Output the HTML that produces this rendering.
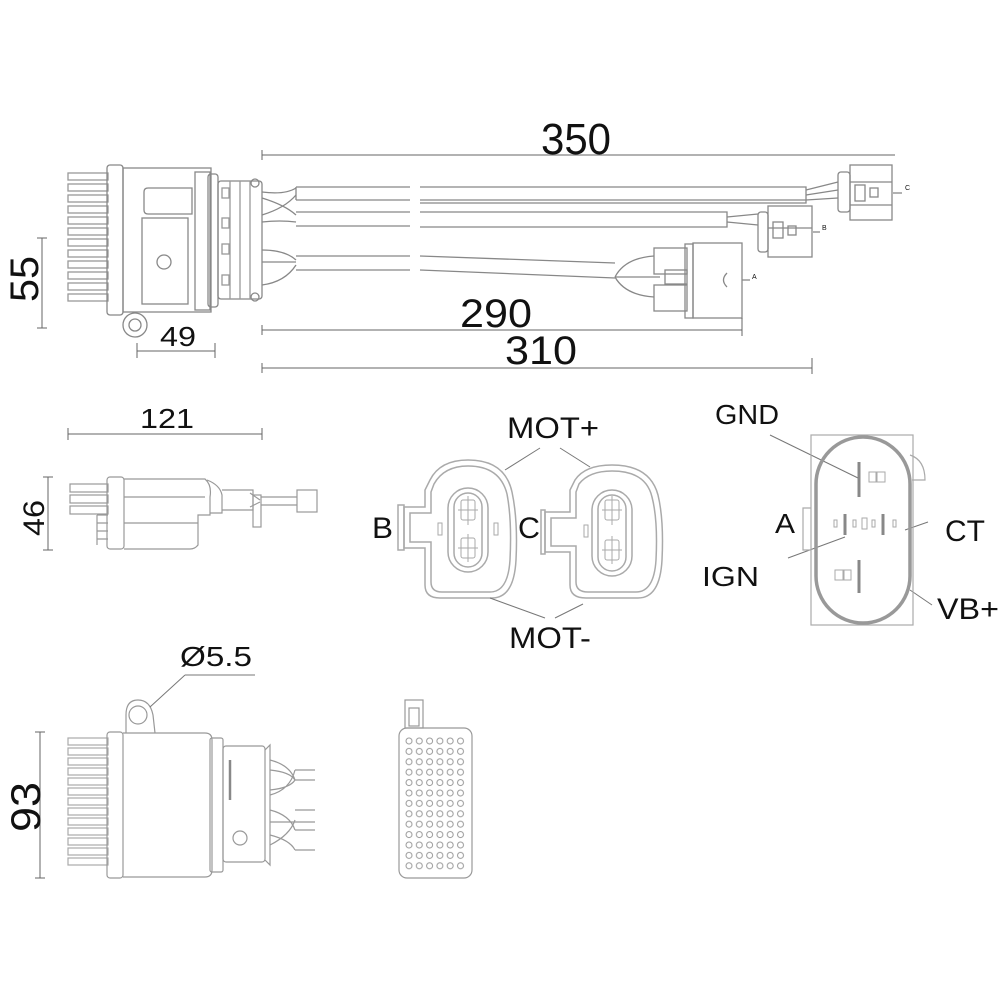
<!DOCTYPE html>
<html><head><meta charset="utf-8"><style>
html,body{margin:0;padding:0;background:#fff}
svg{display:block}
text{font-family:"Liberation Sans",sans-serif;fill:#111}
</style></head><body>
<svg width="1000" height="1000" viewBox="0 0 1000 1000" xmlns="http://www.w3.org/2000/svg">
<defs>
<pattern id="dots" x="404" y="736" width="10.3" height="10.4" patternUnits="userSpaceOnUse">
<circle cx="5" cy="5" r="3" fill="none" stroke="#999" stroke-width="1"/>
</pattern>
</defs>
<g fill="none" stroke="#888" stroke-width="1.3">
<g stroke="#999">
<rect x="68" y="173" width="40" height="7"/><rect x="68" y="184" width="40" height="7"/>
<rect x="68" y="195" width="40" height="7"/><rect x="68" y="206" width="40" height="7"/>
<rect x="68" y="217" width="40" height="7"/><rect x="68" y="228" width="40" height="7"/>
<rect x="68" y="239" width="40" height="7"/><rect x="68" y="250" width="40" height="7"/>
<rect x="68" y="261" width="40" height="7"/><rect x="68" y="272" width="40" height="7"/>
<rect x="68" y="283" width="40" height="7"/><rect x="68" y="294" width="40" height="7"/>
</g>
<rect x="107" y="165" width="16" height="150" rx="3"/>
<rect x="123" y="168" width="88" height="144"/>
<path d="M148 188 H192 V214 H148 Q144 214 144 210 V192 Q144 188 148 188 Z"/>
<rect x="142" y="218" width="46" height="86"/>
<circle cx="164" cy="262" r="7"/>
<rect x="195" y="172" width="15" height="138"/>
<rect x="208" y="174" width="10" height="133" rx="3"/>
<rect x="218" y="181" width="44" height="118" rx="3"/>
<g stroke="#999">
<line x1="230" y1="181" x2="230" y2="299"/><line x1="240" y1="181" x2="240" y2="299"/><line x1="250" y1="181" x2="250" y2="299"/>
<rect x="222" y="188" width="7" height="10"/><rect x="222" y="218" width="7" height="10"/><rect x="222" y="244" width="7" height="10"/><rect x="222" y="275" width="7" height="10"/>
</g>
<circle cx="255" cy="183" r="4"/><circle cx="255" cy="297" r="4"/>
<circle cx="135" cy="325" r="12"/><circle cx="135" cy="325" r="6"/>
<path d="M262 192 Q285 195 296 188 M262 215 Q285 208 296 195 M262 198 Q285 205 296 215 M262 222 Q280 220 296 222"/>
<path d="M262 250 Q285 250 296 260 M262 285 Q285 282 296 265 M262 262 H296"/>
<path d="M296 187 H410 M296 200 H410 M296 187 V200"/>
<path d="M420 187 H806 V203 H420 M420 200 H806"/>
<path d="M806 190 L838 182 M806 195 L838 190 M806 200 L838 198"/>
<rect x="838" y="172" width="12" height="40" rx="3"/>
<rect x="850" y="165" width="42" height="55"/>
<line x1="850" y1="182" x2="892" y2="182"/><line x1="850" y1="205" x2="892" y2="205"/>
<rect x="855" y="185" width="10" height="16"/><rect x="870" y="188" width="8" height="9"/>
<path d="M893 193 H902"/>
<path d="M296 212 H410 M296 226 H410"/>
<path d="M420 212 H727 V227 H420"/>
<path d="M727 217 L758 214 M727 222 L758 225"/>
<rect x="758" y="212" width="10" height="40" rx="3"/>
<rect x="768" y="206" width="44" height="51"/>
<line x1="768" y1="228" x2="812" y2="228"/>
<rect x="773" y="222" width="10" height="16"/><rect x="788" y="226" width="8" height="9"/>
<path d="M813 232 H820"/>
<path d="M296 256 H410 M296 270 H410"/>
<path d="M420 256 L615 263 M420 270 L615 278"/>
<path d="M615 277 Q625 258 654 256 M615 277 H660 M615 277 Q625 295 654 297"/>
<rect x="654" y="248" width="33" height="26"/><rect x="665" y="270" width="22" height="14"/><rect x="654" y="285" width="33" height="26"/>
<rect x="685" y="244" width="8" height="74"/>
<rect x="693" y="243" width="49" height="75"/>
<path d="M727 273 Q720 280 727 287"/>
<path d="M742 280 H750"/>
</g>
<g stroke="#666" stroke-width="1">
<line x1="262" y1="155" x2="895" y2="155"/><line x1="262" y1="150" x2="262" y2="160"/>
<line x1="262" y1="330" x2="742" y2="330"/><line x1="262" y1="325" x2="262" y2="335"/><line x1="742" y1="318" x2="742" y2="336"/>
<line x1="262" y1="368" x2="812" y2="368"/><line x1="262" y1="363" x2="262" y2="373"/><line x1="812" y1="358" x2="812" y2="374"/>
<line x1="42" y1="238" x2="42" y2="328"/><line x1="37" y1="238" x2="47" y2="238"/><line x1="37" y1="328" x2="47" y2="328"/>
<line x1="137" y1="351" x2="215" y2="351"/><line x1="137" y1="343" x2="137" y2="358"/><line x1="215" y1="343" x2="215" y2="358"/>
<line x1="68" y1="434" x2="262" y2="434"/><line x1="68" y1="428" x2="68" y2="440"/><line x1="262" y1="428" x2="262" y2="440"/>
<line x1="48" y1="477" x2="48" y2="550"/><line x1="43" y1="477" x2="53" y2="477"/><line x1="43" y1="550" x2="53" y2="550"/>
<line x1="40" y1="732" x2="40" y2="878"/><line x1="35" y1="732" x2="45" y2="732"/><line x1="35" y1="878" x2="45" y2="878"/>
</g>
<g fill="none" stroke="#999" stroke-width="1.2">
<rect x="70" y="484" width="38" height="8"/><rect x="70" y="495" width="38" height="8"/><rect x="70" y="506" width="38" height="8"/>
<path d="M97 515 H108 M97 523 H108 M97 531 H108 M97 539 H108 M97 515 V545"/>
<rect x="107" y="477" width="17" height="72" rx="3"/>
<path d="M124 479 H205 Q212 485 210 497 V515 H198 V545 Q195 549 190 549 H124"/>
<line x1="124" y1="497" x2="205" y2="497"/><line x1="124" y1="523" x2="198" y2="523"/>
<path d="M207 480 Q220 485 222 495 V513 H210"/>
<path d="M222 490 H253 V510 H222"/>
<path d="M250 493 L260 500 M250 507 L260 502"/>
<rect x="253" y="495" width="8" height="32"/>
<path d="M261 497 H297 M261 505 H297"/>
<rect x="297" y="490" width="20" height="22"/>
</g>
<g fill="none" stroke="#aaa" stroke-width="1.5">
<path d="M430 480 Q440 460 468 460 Q505 460 512 492 Q518 520 516 560 Q514 598 492 598 H440 Q425 598 425 585 V548 H404 V507 H425 V490 Z"/>
<path d="M434 484 Q444 466 468 466 Q500 466 507 494 Q512 520 510 560 Q508 592 490 592 H442 Q431 592 431 582 V542 H410 V513 H431 V492 Z"/>
<path d="M398 505 H404 V550 H398 Z"/>
<rect x="448" y="488" width="40" height="84" rx="20"/>
<rect x="454" y="493" width="28" height="74" rx="14"/>
<g stroke="#aaa" stroke-width="1"><rect x="461" y="500" width="14" height="20" rx="2"/><line x1="468" y1="496" x2="468" y2="525"/><line x1="458" y1="510" x2="478" y2="510"/>
<rect x="461" y="538" width="14" height="20" rx="2"/><line x1="468" y1="534" x2="468" y2="562"/><line x1="458" y1="548" x2="478" y2="548"/>
<rect x="438" y="523" width="4" height="12"/><rect x="494" y="523" width="4" height="12"/></g>
<path d="M575 480 Q585 465 612 465 Q650 465 658 495 Q664 520 662 560 Q660 598 638 598 H586 Q570 598 570 585 V552 H545 V512 H570 V490 Z"/>
<path d="M579 484 Q589 471 612 471 Q646 471 652 497 Q658 520 656 560 Q654 592 636 592 H588 Q576 592 576 582 V546 H551 V518 H576 V492 Z"/>
<path d="M541 510 H545 V554 H541 Z"/>
<rect x="592" y="490" width="40" height="86" rx="20"/>
<rect x="598" y="495" width="28" height="76" rx="14"/>
<g stroke="#aaa" stroke-width="1"><rect x="605" y="500" width="14" height="20" rx="2"/><line x1="612" y1="496" x2="612" y2="525"/><line x1="602" y1="510" x2="622" y2="510"/>
<rect x="605" y="540" width="14" height="20" rx="2"/><line x1="612" y1="536" x2="612" y2="564"/><line x1="602" y1="550" x2="622" y2="550"/>
<rect x="584" y="525" width="4" height="12"/></g>
</g>
<g stroke="#777" stroke-width="1">
<line x1="540" y1="448" x2="505" y2="470"/><line x1="560" y1="448" x2="590" y2="467"/>
<line x1="545" y1="618" x2="490" y2="598"/><line x1="555" y1="618" x2="583" y2="604"/>
<line x1="770" y1="435" x2="858" y2="478"/>
<line x1="928" y1="522" x2="905" y2="530"/>
<line x1="788" y1="558" x2="845" y2="537"/>
<line x1="932" y1="605" x2="910" y2="590"/>
</g>
<g fill="none" stroke="#aaa">
<rect x="811" y="435" width="102" height="190" stroke-width="1.2"/>
<rect x="816" y="437" width="94" height="186" rx="47" stroke="#999" stroke-width="3.5"/>
<path d="M910 455 Q925 460 925 480 H912" stroke-width="1.2"/>
<path d="M811 508 H803 V550 H811" stroke-width="1.2"/>
<g stroke="#888" stroke-width="3"><line x1="859" y1="462" x2="859" y2="497"/><line x1="845" y1="514" x2="845" y2="535"/><line x1="883" y1="514" x2="883" y2="535"/><line x1="859" y1="560" x2="859" y2="593"/></g>
<g stroke="#aaa" stroke-width="1"><rect x="869" y="472" width="7" height="10"/><rect x="877" y="472" width="8" height="10"/>
<rect x="835" y="570" width="8" height="10"/><rect x="844" y="570" width="7" height="10"/>
<rect x="834" y="520" width="3" height="7"/><rect x="853" y="520" width="3" height="7"/><rect x="862" y="518" width="5" height="11"/><rect x="872" y="520" width="3" height="7"/><rect x="893" y="520" width="3" height="7"/></g>
</g>
<g fill="none" stroke="#999" stroke-width="1.2">
<g stroke="#aaa">
<rect x="68" y="738" width="40" height="7"/><rect x="68" y="748" width="40" height="7"/><rect x="68" y="758" width="40" height="7"/>
<rect x="68" y="768" width="40" height="7"/><rect x="68" y="778" width="40" height="7"/><rect x="68" y="788" width="40" height="7"/>
<rect x="68" y="798" width="40" height="7"/><rect x="68" y="808" width="40" height="7"/><rect x="68" y="818" width="40" height="7"/>
<rect x="68" y="828" width="40" height="7"/><rect x="68" y="838" width="40" height="7"/><rect x="68" y="848" width="40" height="7"/>
<rect x="68" y="858" width="40" height="7"/>
</g>
<rect x="107" y="732" width="16" height="146" rx="3"/>
<path d="M123 733 H205 Q212 733 212 740 V870 Q212 877 205 877 H123"/>
<path d="M126 733 V715 Q126 700 138 700 Q150 700 153 715 L155 733"/>
<circle cx="138" cy="715" r="9"/>
<rect x="210" y="738" width="13" height="134" rx="2"/>
<rect x="223" y="746" width="42" height="116" rx="3"/>
<line x1="230" y1="760" x2="230" y2="800" stroke-width="2.5" stroke="#888"/>
<circle cx="240" cy="838" r="7"/>
<path d="M265 750 L270 745 V865 L265 860"/>
<path d="M270 760 Q290 765 295 780 M270 770 Q290 772 295 780 M270 790 Q290 788 295 780 M270 795 Q290 790 295 770 M295 770 H315 M295 780 H315"/>
<path d="M270 810 Q290 815 295 830 M270 845 Q290 835 295 820 M270 822 H315 M270 835 Q290 840 295 850 M295 830 H315 M295 850 H315 M295 810 H315"/>
<line x1="150" y1="707" x2="185" y2="675" stroke="#777" stroke-width="1"/>
<line x1="185" y1="675" x2="255" y2="675" stroke="#777" stroke-width="1"/>
<rect x="399" y="728" width="73" height="150" rx="8"/>
<rect x="405" y="700" width="18" height="28"/><rect x="409" y="708" width="10" height="18"/>
<rect x="404" y="736" width="62" height="136" fill="url(#dots)" stroke="none"/>
</g>
<text x="541" y="154" font-size="44" textLength="70" lengthAdjust="spacingAndGlyphs">350</text>
<text x="460" y="327" font-size="40" textLength="72" lengthAdjust="spacingAndGlyphs">290</text>
<text x="505" y="364" font-size="40" textLength="72" lengthAdjust="spacingAndGlyphs">310</text>
<text x="160" y="346" font-size="28" textLength="36" lengthAdjust="spacingAndGlyphs">49</text>
<text x="140" y="428" font-size="28" textLength="54" lengthAdjust="spacingAndGlyphs">121</text>
<text transform="translate(38,302) rotate(-90)" font-size="40" textLength="46" lengthAdjust="spacingAndGlyphs">55</text>
<text transform="translate(44,536) rotate(-90)" font-size="30" textLength="36" lengthAdjust="spacingAndGlyphs">46</text>
<text transform="translate(40,832) rotate(-90)" font-size="42" textLength="50" lengthAdjust="spacingAndGlyphs">93</text>
<text x="180" y="666" font-size="28" textLength="72" lengthAdjust="spacingAndGlyphs">Ø5.5</text>
<text x="507" y="438" font-size="30" textLength="92" lengthAdjust="spacingAndGlyphs">MOT+</text>
<text x="509" y="648" font-size="30" textLength="82" lengthAdjust="spacingAndGlyphs">MOT-</text>
<text x="372" y="538" font-size="30" textLength="21" lengthAdjust="spacingAndGlyphs">B</text>
<text x="518" y="538" font-size="30" textLength="22" lengthAdjust="spacingAndGlyphs">C</text>
<text x="715" y="424" font-size="28" textLength="64" lengthAdjust="spacingAndGlyphs">GND</text>
<text x="775" y="533" font-size="28" textLength="20" lengthAdjust="spacingAndGlyphs">A</text>
<text x="945" y="541" font-size="30" textLength="40" lengthAdjust="spacingAndGlyphs">CT</text>
<text x="702" y="586" font-size="28" textLength="57" lengthAdjust="spacingAndGlyphs">IGN</text>
<text x="937" y="619" font-size="30" textLength="62" lengthAdjust="spacingAndGlyphs">VB+</text>
<g font-size="7" fill="#888"><text x="905" y="190">C</text><text x="822" y="230">B</text><text x="752" y="279">A</text></g>
</svg>
</body></html>
